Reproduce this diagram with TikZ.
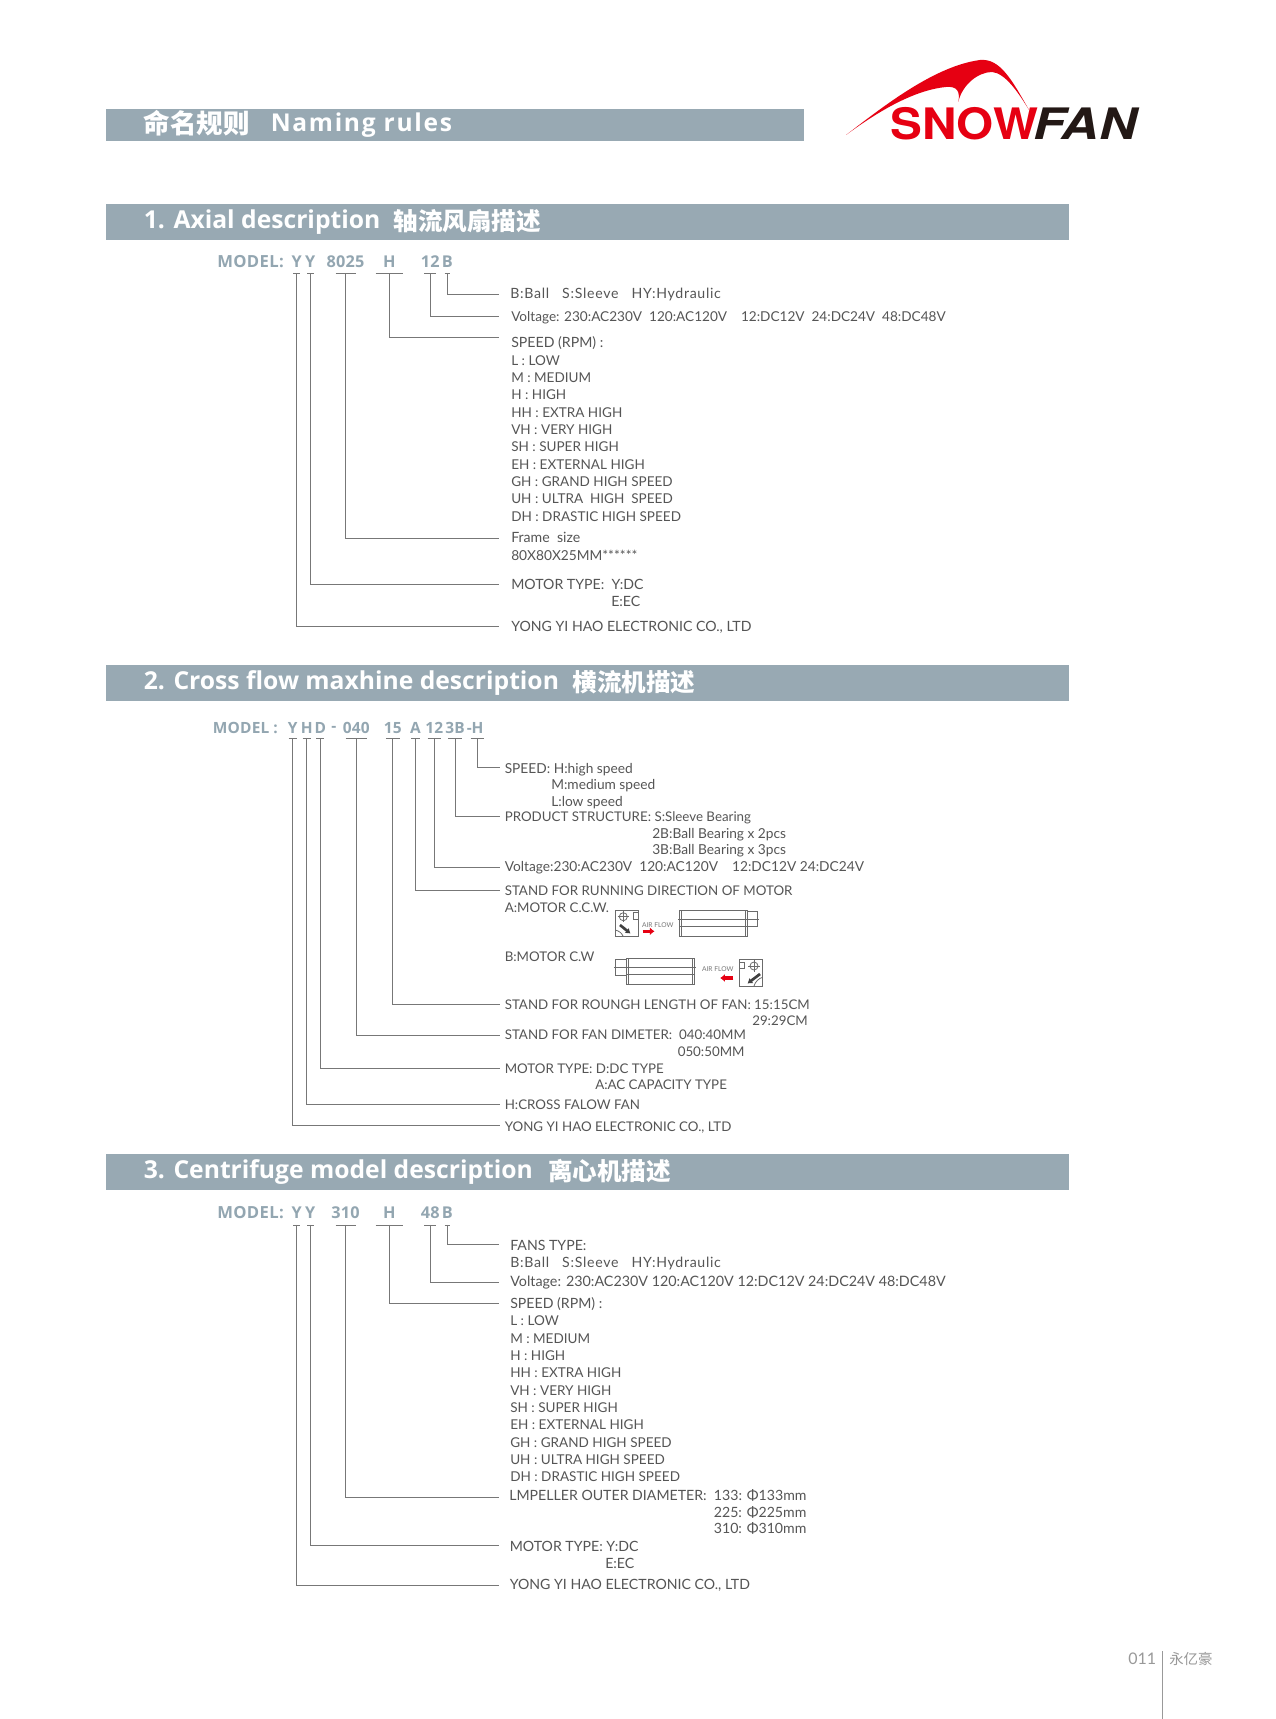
\documentclass[tikz,border=0pt]{standalone}
\usepackage{fontspec}
\usepackage{xcolor}
\usetikzlibrary{arrows.meta}
\setmainfont{Lato}
\newfontfamily\cjk{Noto Sans CJK SC}
\newfontfamily\titlefont{Open Sans}
\newfontfamily\namefont[LetterSpace=7]{Open Sans}
\newfontfamily\modelfont[LetterSpace=1]{Open Sans}
\newfontfamily\modelwide[LetterSpace=2]{Open Sans}
\newfontfamily\spaced[LetterSpace=5]{Lato}
\newfontfamily\logofont{TeX Gyre Heros}
\newcommand\lowfont{\fontsize{10.3}{13}\selectfont}
\definecolor{barblue}{HTML}{98A9B3}
\definecolor{modelblue}{HTML}{93A6B1}
\definecolor{bodygrey}{HTML}{555555}
\definecolor{leadgrey}{HTML}{777777}
\definecolor{pagegrey}{HTML}{999999}
\definecolor{logored}{HTML}{E60012}
\definecolor{logoblack}{HTML}{231815}

\begin{document}
\begin{tikzpicture}[
  x=.75pt,y=-.75pt,
  titlebar/.style={fill=barblue,anchor=north west,inner sep=0pt},
  titletext/.style={anchor=west,inner sep=0pt,text=white,font=\titlefont\bfseries\fontsize{18.5}{21}\selectfont},
  cjktext/.style={titletext,font=\cjk\bfseries\fontsize{18.4}{22}\selectfont},
  modelpart/.style={inner sep=0pt,text=modelblue,text height=9pt,text depth=0pt,
                    font=\modelfont\bfseries\fontsize{12.2}{14}\selectfont},
  modelhead/.style={modelpart,anchor=west,font=\modelwide\bfseries\fontsize{12.5}{14}\selectfont},
  crosspart/.style={modelpart,font=\modelfont\bfseries\fontsize{11.6}{14}\selectfont},
  textline/.style={anchor=west,inner sep=0pt,text=bodygrey,text height=7.6pt,text depth=0pt,
                   font=\fontsize{10.6}{13}\selectfont},
  speedline/.style={textline,font=\fontsize{10.15}{13}\selectfont},
  crossline/.style={textline,font=\fontsize{10}{13}\selectfont},
  leader/.style={draw=leadgrey,line width=.7pt},
  iconline/.style={draw=leadgrey!90!black,line width=.6pt},
  flowtext/.style={inner sep=0pt,text=leadgrey,font=\fontsize{5}{6}\selectfont},
  flowarrow/.style={line width=2.6pt,logored,-{Latex[length=3.5pt,width=6pt]}},
  turnarrow/.style={line width=2pt,black!75,-{Latex[length=3.5pt,width=5pt]}}
]
 \useasboundingbox[fill=white] (0,0) rectangle (1276,1719);

 % header and logo
 \node[titlebar,minimum width=523.5pt,minimum height=24.3pt] (barn) at (106,108.3) {};
 \node[titletext,font=\cjk\bfseries\fontsize{19.9}{22}\selectfont] (namecn) at (143.6,123) {命名规则};
 \node[titletext,font=\namefont\bfseries\fontsize{18.4}{21}\selectfont] (nameen) at (270.5,125) {Naming rules};
 \fill[logored] (846,135) .. controls (885,105) and (935,66) .. (980,60)
   .. controls (1000,58) and (1012,80) .. (1029,110)
   .. controls (1018,92) and (1005,73) .. (992,72)
   .. controls (978,72) and (962,85) .. (958.3,102)
   .. controls (960,92) and (958,86) .. (946,87)
   .. controls (915,90) and (880,110) .. (846,135) -- cycle;
 \node[inner sep=0pt,anchor=base west,text=logored,xscale=1.1,transform shape,font=\logofont\bfseries\fontsize{32.5}{36}\selectfont] (snow) at (890,140) {SNOW};
 \node[inner sep=0pt,anchor=base west,text=logoblack,xscale=1.2,transform shape,font=\logofont\bfseries\itshape\fontsize{32.5}{36}\selectfont] (fan) at (1033,140) {FAN};

 % section 1
 \node[titlebar,minimum width=722pt,minimum height=27pt] (bara) at (106,204) {};
 \node[titletext] (titlea) at (143.6,222.5) {1. Axial description};
 \node[cjktext] (cna) at (393.5,221.5) {轴流风扇描述};
 \node[modelhead] (modela) at (217,261.7) {MODEL:};
 \foreach \n/\x/\w/\t in {aya/296.7/3.6/Y,ayb/310.3/3.3/Y,asz/345.5/10/8025,asp/389.3/13.8/H,avo/430.3/6/12,abe/447.3/2.8/B}{
   \node[modelpart,minimum height=17.7pt] (\n) at (\x,261.7) {\t};
   \draw[leader] ([xshift=-\w*.75pt]\n.south) -- ([xshift=\w*.75pt]\n.south);
 }
 \foreach \n/\y in {abe/294,avo/316.3,asp/337.3,asz/538.3,ayb/584,aya/626.3}{
   \coordinate (e\n) at (499.3,\y);
   \draw[leader] (\n.south) |- (e\n);
 }
 \foreach \x/\y/\t [count=\i] in {
   510/293.5/{\spaced B:Ball~~~S:Sleeve~~~HY:Hydraulic},
   511/342.7/{SPEED (RPM)~:},
   511/537.3/{Frame~~size},
   511/555/{\lowfont 80X80X25MM******},
   511/584/{MOTOR TYPE:~~Y:DC},
   611/601/{E:EC},
   511/626/{YONG YI HAO ELECTRONIC CO., LTD}}
   \node[textline] (la\i) at (\x,\y) {\t};
 \node[speedline,font=\fontsize{10.2}{13}\selectfont] (voa) at (511,316) {Voltage: 230:AC230V~~120:AC120V~~~~12:DC12V~~24:DC24V~~48:DC48V};
 \foreach \t [count=\i] in {L : LOW,M : MEDIUM,H : HIGH,HH : EXTRA HIGH,VH : VERY HIGH,SH : SUPER HIGH,
   EH : EXTERNAL HIGH,GH : GRAND HIGH SPEED,UH : ULTRA~~HIGH~~SPEED,DH : DRASTIC HIGH SPEED}
   \node[speedline] (spa\i) at (511,{342.7+17.33*\i}) {\t};

 % section 2
 \node[titlebar,minimum width=722pt,minimum height=27pt] (barb) at (106,665) {};
 \node[titletext] (titleb) at (143.6,683.5) {2. Cross flow maxhine description};
 \node[cjktext] (cnb) at (572.5,682.5) {横流机描述};
 \node[crosspart,anchor=west] (modelb) at (212.7,727.7) {MODEL :};
 \foreach \n/\x/\w/\t in {bya/292.7/4.2/Y,bhc/306.7/4.2/H,bdc/320.3/4/D,bdi/356.3/10.7/040,ble/392.7/6.8/15,bdr/415.5/4.2/A,bvo/434.2/6.5/12,bst/455/6.8/3B,bsp/477.5/6.8/H}{
   \node[crosspart,minimum height=15.5pt] (\n) at (\x,727.7) {\t};
   \draw[leader] ([xshift=-\w*.75pt]\n.south) -- ([xshift=\w*.75pt]\n.south);
 }
 \node[crosspart,anchor=west] (dasha) at (331,725) {-};
 \node[crosspart,anchor=west] (dashb) at (466.6,727.7) {-};
 \foreach \n/\y in {bsp/767.3,bst/816,bvo/867,bdr/890,ble/1004.3,bdi/1035.3,bdc/1068,bhc/1104,bya/1125.3}{
   \coordinate (e\n) at (500,\y);
   \draw[leader] (\n.south) |- (e\n);
 }
 \foreach \x/\y/\t [count=\i] in {
   504.5/768/{\lowfont SPEED: H:high speed},
   551/784.7/{\lowfont M:medium speed},
   551/801.3/{\lowfont L:low speed},
   504.5/816.3/{PRODUCT STRUCTURE: S:Sleeve Bearing},
   652/833/{\lowfont 2B:Ball Bearing x 2pcs},
   652/849.7/{\lowfont 3B:Ball Bearing x 3pcs},
   504.5/866.7/{\lowfont Voltage:230:AC230V~~120:AC120V~~~~12:DC12V 24:DC24V},
   504.5/890.3/{STAND FOR RUNNING DIRECTION OF MOTOR},
   504.5/907/{A:MOTOR C.C.W.},
   504.5/956.3/{B:MOTOR C.W},
   504.5/1004.3/{STAND FOR ROUNGH LENGTH OF FAN: 15:15CM},
   752/1020.5/{29:29CM},
   504.5/1034.7/{STAND FOR FAN DIMETER:~~040:40MM},
   677.5/1051/{050:50MM},
   504.5/1068/{MOTOR TYPE: D:DC TYPE},
   595/1084.7/{A:AC CAPACITY TYPE},
   504.5/1104/{H:CROSS FALOW FAN},
   504.5/1126/{YONG YI HAO ELECTRONIC CO., LTD}}
   \node[crossline] (lb\i) at (\x,\y) {\t};

 % fan drawings
 \draw[iconline] (615.3,910) rectangle (638.7,936.7);
 \draw[iconline] (633.3,912.7) rectangle (638.7,919.3);
 \draw[iconline] (623.3,916.7) circle (4);
 \draw[iconline] (617.7,916.7) -- (629,916.7) (623.3,911) -- (623.3,922.4);
 \draw[iconline] (615.3,930) .. controls (619,931) and (622,933) .. (623.3,936.7);
 \draw[turnarrow] (620,925) -- (630.5,933.5);
 \node[flowtext] (flowa) at (657.7,924.7) {AIR FLOW};
 \draw[flowarrow] (642.7,931.3) -- (654.5,931.3);
 \draw[iconline] (679.3,910) rectangle (747.3,936.7);
 \draw[iconline] (681.5,910) -- (681.5,936.7) (745.5,910) -- (745.5,936.7);
 \draw[iconline] (678,919.3) -- (758.7,919.3) (679.3,926.7) -- (747.3,926.7);
 \draw[iconline] (747.3,911.3) rectangle (757.7,926.7);

 \draw[iconline] (626,958) rectangle (694.7,984.7);
 \draw[iconline] (628,958) -- (628,984.7) (692.7,958) -- (692.7,984.7);
 \draw[iconline] (614,967.3) -- (696,967.3) (626,974.7) -- (694.7,974.7);
 \draw[iconline] (615.3,959.3) rectangle (626,975.3);
 \node[flowtext] (flowb) at (717.7,969.3) {AIR FLOW};
 \draw[flowarrow] (733.3,978) -- (720.2,978);
 \draw[iconline] (739.3,959.3) rectangle (762.7,986);
 \draw[iconline] (739.3,962) rectangle (744.7,968.7);
 \draw[iconline] (754,966) circle (4);
 \draw[iconline] (748.3,966) -- (759.7,966) (754,960.3) -- (754,971.7);
 \draw[iconline] (762.7,977.3) .. controls (759,978) and (755,982) .. (754,986);
 \draw[turnarrow] (760,974) -- (747.5,983.5);

 % section 3
 \node[titlebar,minimum width=722pt,minimum height=27pt] (barc) at (106,1154) {};
 \node[titletext] (titlec) at (143.6,1172.5) {3. Centrifuge model description};
 \node[cjktext] (cnc) at (548,1171.5) {离心机描述};
 \node[modelhead] (modelc) at (217,1212.7) {MODEL:};
 \foreach \n/\x/\w/\t in {cya/296.7/3.6/Y,cyb/310.3/3.3/Y,cdi/345.5/10/310,csp/389.3/13.8/H,cvo/430.3/6/48,cbe/447.3/2.8/B}{
   \node[modelpart,minimum height=18pt] (\n) at (\x,1212.7) {\t};
   \draw[leader] ([xshift=-\w*.75pt]\n.south) -- ([xshift=\w*.75pt]\n.south);
 }
 \foreach \n/\y in {cbe/1244,cvo/1282,csp/1303,cdi/1497.7,cyb/1545.7,cya/1585.3}{
   \coordinate (e\n) at (499.3,\y);
   \draw[leader] (\n.south) |- (e\n);
 }
 \foreach \x/\y/\t [count=\i] in {
   510/1245.7/{FANS TYPE:},
   510/1262.3/{\spaced B:Ball~~~S:Sleeve~~~HY:Hydraulic},
   510/1281.7/{\fontsize{10.74}{13}\selectfont Voltage: 230:AC230V 120:AC120V 12:DC12V 24:DC24V 48:DC48V},
   510/1303.3/{SPEED (RPM)~:},
   509/1495.7/{LMPELLER OUTER DIAMETER:~~133: Φ133mm},
   713.6/1512/{225: Φ225mm},
   713.6/1528.5/{310: Φ310mm},
   509.5/1546/{MOTOR TYPE: Y:DC},
   605/1563/{E:EC},
   509.5/1584.7/{YONG YI HAO ELECTRONIC CO., LTD}}
   \node[textline] (lc\i) at (\x,\y) {\t};
 \foreach \t [count=\i] in {L : LOW,M : MEDIUM,H : HIGH,HH : EXTRA HIGH,VH : VERY HIGH,SH : SUPER HIGH,
   EH : EXTERNAL HIGH,GH : GRAND HIGH SPEED,UH : ULTRA HIGH SPEED,DH : DRASTIC HIGH SPEED}
   \node[speedline] (spc\i) at (510,{1303.3+17.33*\i}) {\t};

 % page number
 \node[inner sep=0pt,anchor=west,text=pagegrey,font=\fontsize{12}{14}\selectfont] (pagenum) at (1128,1658.5) {011};
 \node[inner sep=0pt,anchor=west,text=pagegrey,font=\cjk\fontsize{10.8}{13}\selectfont] (brand) at (1169,1658.5) {永亿豪};
 \coordinate (rulea) at (1162.3,1651);
 \coordinate (ruleb) at (1162.3,1719);
 \draw[draw=pagegrey,line width=.7pt] (rulea) -- (ruleb);
\end{tikzpicture}
\end{document}
